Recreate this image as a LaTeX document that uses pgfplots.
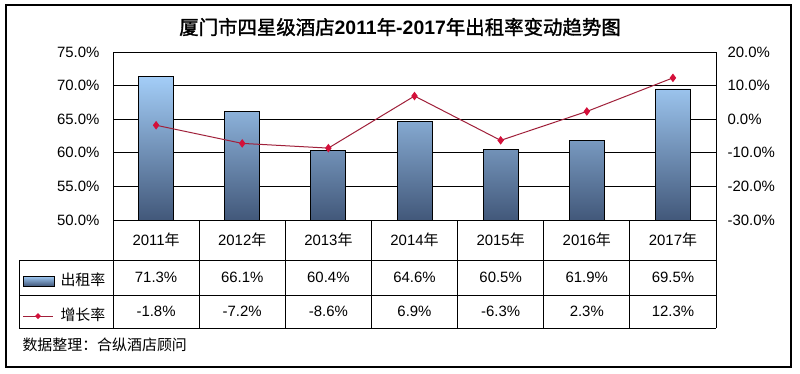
\documentclass[border=0pt]{standalone}
\usepackage{pgfplots}
\pgfplotsset{compat=1.18}
\usepackage{pgfplotstable}
\usepackage{fontspec}
\setmainfont{Liberation Sans}
\newfontfamily\cjk{Noto Sans CJK SC}
\newfontfamily\cjkb{Noto Sans CJK SC}[FakeBold=1.5]
\newfontfamily\latb{Liberation Sans Bold}
\definecolor{barTop}{HTML}{A3CDF7}
\definecolor{barBot}{HTML}{42587A}
\definecolor{lineRed}{HTML}{A0203A}
\definecolor{markRed}{HTML}{D4103A}
\pgfplotstableread{
x v g
0 71.3 -1.8
1 66.1 -7.2
2 60.4 -8.6
3 64.6 6.9
4 60.5 -6.3
5 61.9 2.3
6 69.5 12.3
}\datatab
\begin{document}
\begin{tikzpicture}[x=1bp,y=1bp]
\fill[white] (0,0) rectangle (800,373);
\draw[black,line width=1.2bp] (6,6) rectangle (791,368);
\node[font=\fontsize{19.5}{19.5}\selectfont] at (400,346) {\cjkb 厦门市四星级酒店\latb 2011\cjkb 年\latb -2017\cjkb 年出租率变动趋势图};
\begin{axis}[
  at={(113bp,153bp)}, anchor=south west, scale only axis,
  width=603bp, height=168bp,
  xmin=-0.5, xmax=6.5, ymin=0, ymax=25,
  xtick=\empty,
  ytick={0,5,10,15,20,25},
  yticklabels={50.0\%,55.0\%,60.0\%,65.0\%,70.0\%,75.0\%},
  ymajorgrids, major grid style={black,line width=0.7bp},
  axis line style={black,line width=0.8bp},
  major tick length=0pt,
  yticklabel style={font=\fontsize{15}{15}\selectfont, xshift=-10bp},
]
\addplot[ybar, bar width=35bp, draw=black, line width=0.8bp, top color=barTop, bottom color=barBot]
  table[x=x, y expr=\thisrow{v}-50] {\datatab};
\end{axis}
\begin{axis}[
  at={(113bp,153bp)}, anchor=south west, scale only axis,
  width=603bp, height=168bp,
  xmin=-0.5, xmax=6.5, ymin=-30, ymax=20,
  axis y line*=right, axis x line=none,
  ytick={-30,-20,...,20},
  yticklabel={\pgfmathprintnumber[fixed,fixed zerofill,precision=1]{\tick}\%},
  /pgf/number format/assume math mode=true,
  major tick length=0pt,
  axis line style={draw=none},
  yticklabel style={font=\fontsize{15}{15}\selectfont, xshift=8bp},
]
\addplot[lineRed, line width=1bp, mark=diamond*, mark size=3.5bp, mark options={draw=markRed,fill=markRed}]
  table[x=x, y=g] {\datatab};
\end{axis}
% data table
\def\cw{86.142857}
\draw[black,line width=0.9bp] (19,113) -- (716,113);
\draw[black,line width=0.9bp] (19,78) -- (716,78);
\draw[black,line width=0.9bp] (19,45) -- (716,45);
\draw[black,line width=0.9bp] (19,113) -- (19,45);
\foreach \i in {0,...,7} {
  \draw[black,line width=0.9bp] (113+\i*\cw,153) -- (113+\i*\cw,45);
}
\foreach \lab [count=\i from 0] in {2011,2012,2013,2014,2015,2016,2017} {
  \node[font=\fontsize{15}{15}\selectfont] at (113+\i*\cw+0.5*\cw,133) {\lab{\cjk 年}};
}
\foreach \lab [count=\i from 0] in {71.3,66.1,60.4,64.6,60.5,61.9,69.5} {
  \node[font=\fontsize{15}{15}\selectfont] at (113+\i*\cw+0.5*\cw,95.5) {\lab\%};
}
\foreach \lab [count=\i from 0] in {-1.8,-7.2,-8.6,6.9,-6.3,2.3,12.3} {
  \node[font=\fontsize{15}{15}\selectfont] at (113+\i*\cw+0.5*\cw,61.5) {\lab\%};
}
% legend
\shade[top color=barTop, bottom color=barBot, draw=black, line width=0.8bp] (23,87) rectangle (54,97);
\node[font=\fontsize{15}{15}\selectfont, anchor=west] at (57,93) {\cjk 出租率};
\draw[lineRed, line width=1bp] (23,57) -- (53,57);
\fill[markRed] (38,60) -- (41,57) -- (38,54) -- (35,57) -- cycle;
\node[font=\fontsize{15}{15}\selectfont, anchor=west] at (57,58) {\cjk 增长率};
% source
\node[font=\fontsize{15}{15}\selectfont, anchor=west] at (19,28) {\cjk 数据整理：合纵酒店顾问};
\end{tikzpicture}
\end{document}
